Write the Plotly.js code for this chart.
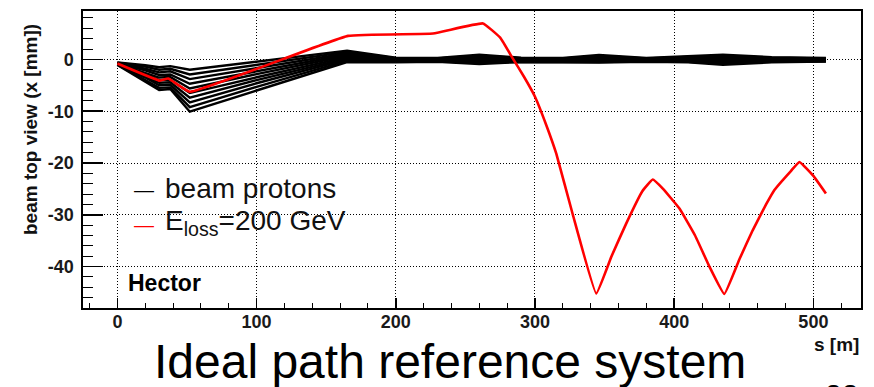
<!DOCTYPE html>
<html>
<head>
<meta charset="utf-8">
<script src="https://cdn.plot.ly/plotly-3.0.1.min.js"></script>
<style>
html,body{margin:0;padding:0;background:#fff;}
#chart{width:874px;height:387px;}
</style>
</head>
<body>
<div id="chart"></div>
<script>
// ---- data ----
// s positions (m) of the beam proton trajectories
var sBeam = [0, 20, 30, 38, 52, 100, 165, 200, 230, 260, 290, 320, 346, 380, 410, 435, 470, 509];
// horizontal position x (mm) of each proton trajectory
var proton1  = [-0.6, -1.1, -1.5, -1.3, -2.0, -0.45, 1.7, 0.35, 0.3, 0.9, 0.35, 0.3, 0.85, 0.3, 0.7, 0.9, 0.45, 0.3];
var proton2  = [-0.65, -1.4, -2.0, -1.8, -2.9, -1.05, 1.45, 0.25, 0.2, 0.7, 0.25, 0.2, 0.65, 0.2, 0.55, 0.7, 0.35, 0.2];
var proton3  = [-0.7, -1.8, -2.5, -2.3, -3.8, -1.65, 1.2, 0.15, 0.1, 0.5, 0.15, 0.1, 0.45, 0.1, 0.4, 0.5, 0.2, 0.1];
var proton4  = [-0.75, -2.1, -3.0, -2.9, -4.7, -2.25, 0.95, 0.05, 0.0, 0.3, 0.05, 0.0, 0.3, 0.0, 0.25, 0.3, 0.1, 0.0];
var proton5  = [-0.8, -2.5, -3.5, -3.4, -5.6, -2.85, 0.7, -0.05, -0.1, 0.1, -0.05, -0.1, 0.1, -0.1, 0.1, 0.1, 0.0, -0.05];
var proton6  = [-0.85, -2.8, -4.0, -3.9, -6.5, -3.45, 0.45, -0.15, -0.15, -0.1, -0.15, -0.2, -0.05, -0.15, -0.05, -0.1, -0.1, -0.15];
var proton7  = [-0.9, -3.2, -4.5, -4.4, -7.4, -4.0, 0.2, -0.25, -0.2, -0.3, -0.25, -0.3, -0.2, -0.2, -0.2, -0.35, -0.2, -0.2];
var proton8  = [-0.95, -3.5, -5.0, -4.9, -8.3, -4.6, 0.0, -0.35, -0.3, -0.5, -0.35, -0.4, -0.35, -0.3, -0.35, -0.6, -0.35, -0.3];
var proton9  = [-1.0, -3.9, -5.5, -5.4, -9.2, -5.3, -0.25, -0.45, -0.35, -0.7, -0.45, -0.5, -0.5, -0.35, -0.45, -0.85, -0.45, -0.35];
var proton10 = [-1.05, -4.2, -5.9, -5.7, -10.1, -6.0, -0.5, -0.55, -0.45, -0.9, -0.5, -0.55, -0.6, -0.45, -0.55, -1.05, -0.55, -0.4];

// proton with energy loss of 200 GeV
var sLoss = [0, 30.5, 36.5, 52, 165.7, 226.7, 262.6, 275, 284, 292, 300, 308, 315.3, 327.2, 344, 355, 365.5, 377, 384.6, 392, 403.8, 415, 425.3, 436, 447, 456.4, 466, 472, 484, 490, 500, 509];
var xLoss = [-0.8, -4.1, -3.7, -6.25, 4.55, 5.0, 6.95, 4.2, 0.2, -3.3, -7.2, -12.6, -18.2, -30, -45.2, -38, -31.7, -25.5, -23.2, -25, -28.8, -34, -40, -45.3, -38.5, -33, -28, -25.2, -21.5, -19.8, -22.5, -25.9];

var xTicks = [0, 100, 200, 300, 400, 500];
var yTicks = [0, -10, -20, -30, -40];

var legendLabels = ['beam protons', 'E<sub>loss</sub>=200 GeV'];
var xTitle = 's [m]';
var yTitle = 'beam top view (x [mm])';
var tagText = 'Hector';
var captionText = 'Ideal path reference system';
var pageText = '22';

// ---- figure ----
var FONT = 'Liberation Sans, Arial, Helvetica, sans-serif';
var protons = [proton1, proton2, proton3, proton4, proton5, proton6, proton7, proton8, proton9, proton10];
var traces = protons.map(function (xs) {
  return {x: sBeam, y: xs, type: 'scatter', mode: 'lines',
          line: {color: '#000000', width: 2.4}, showlegend: false, hoverinfo: 'skip'};
});
traces.push({x: sLoss, y: xLoss, type: 'scatter', mode: 'lines',
             line: {color: '#ff0000', width: 2.6, shape: 'spline', smoothing: 0.3}, showlegend: false});

// plot-area pixel box (layout only)
var L = 83, R = 861.5, T = 11, B = 308;
function px(x) { return (x - L) / (R - L); }
function py(y) { return (B - y) / (B - T); }

function ann(text, x, y, size, opts) {
  var a = {text: text, xref: 'paper', yref: 'paper', x: px(x), y: py(y),
           showarrow: false, xanchor: 'left', yanchor: 'middle',
           font: {family: FONT, size: size, color: '#000'}};
  for (var k in opts) { if (k === 'font') { for (var f in opts.font) a.font[f] = opts.font[f]; } else a[k] = opts[k]; }
  return a;
}

var annotations = [
  ann('\u2014', 132, 190, 20, {}),
  ann(legendLabels[0], 163, 188, 28, {font: {color: '#111'}}),
  ann('\u2014', 132, 225, 20, {font: {color: '#ff0000'}}),
  ann(legendLabels[1], 163, 222, 28, {font: {color: '#111'}}),
  ann(tagText, 126, 282.5, 23, {font: {weight: 'bold'}}),
  ann(xTitle, 862, 344.5, 19, {xanchor: 'right', font: {weight: 'bold', color: '#111'}}),
  ann(yTitle, 30, 130, 19, {xanchor: 'center', textangle: -90, font: {weight: 'bold', color: '#111'}}),
  ann(captionText, 450, 361, 48, {xanchor: 'center'}),
  ann(pageText, 842, 394, 30, {xanchor: 'center'})
];

var axisCommon = {
  showgrid: true, gridcolor: '#000000', gridwidth: 1, griddash: '1px,2px',
  zeroline: false, showline: true, linecolor: '#000000', linewidth: 1.6, mirror: true,
  ticks: 'inside', tickcolor: '#000000', tickwidth: 1.5,
  tickfont: {family: FONT, size: 18, color: '#1a1a1a', weight: 'bold'}
};

var layout = {
  width: 874, height: 387,
  margin: {l: L, r: 874 - R, t: T, b: 387 - B, pad: 0},
  paper_bgcolor: '#ffffff', plot_bgcolor: '#ffffff',
  showlegend: false,
  xaxis: Object.assign({}, axisCommon, {
    range: [-24.7, 534.2], tickmode: 'array', tickvals: xTicks, ticktext: xTicks.map(String),
    ticklen: 10, ticklabelstandoff: -3,
    minor: {dtick: 20, tick0: 0, ticks: 'inside', ticklen: 5, tickcolor: '#000', tickwidth: 1, showgrid: false}
  }),
  yaxis: Object.assign({}, axisCommon, {
    range: [-48, 9.35], tickmode: 'array', tickvals: yTicks, ticktext: yTicks.map(String),
    ticklen: 20, ticklabelstandoff: 4,
    minor: {dtick: 2, tick0: 0, ticks: 'inside', ticklen: 10, tickcolor: '#000', tickwidth: 1, showgrid: false}
  }),
  annotations: annotations
};

Plotly.newPlot('chart', traces, layout, {staticPlot: true, displayModeBar: false});
</script>
</body>
</html>
